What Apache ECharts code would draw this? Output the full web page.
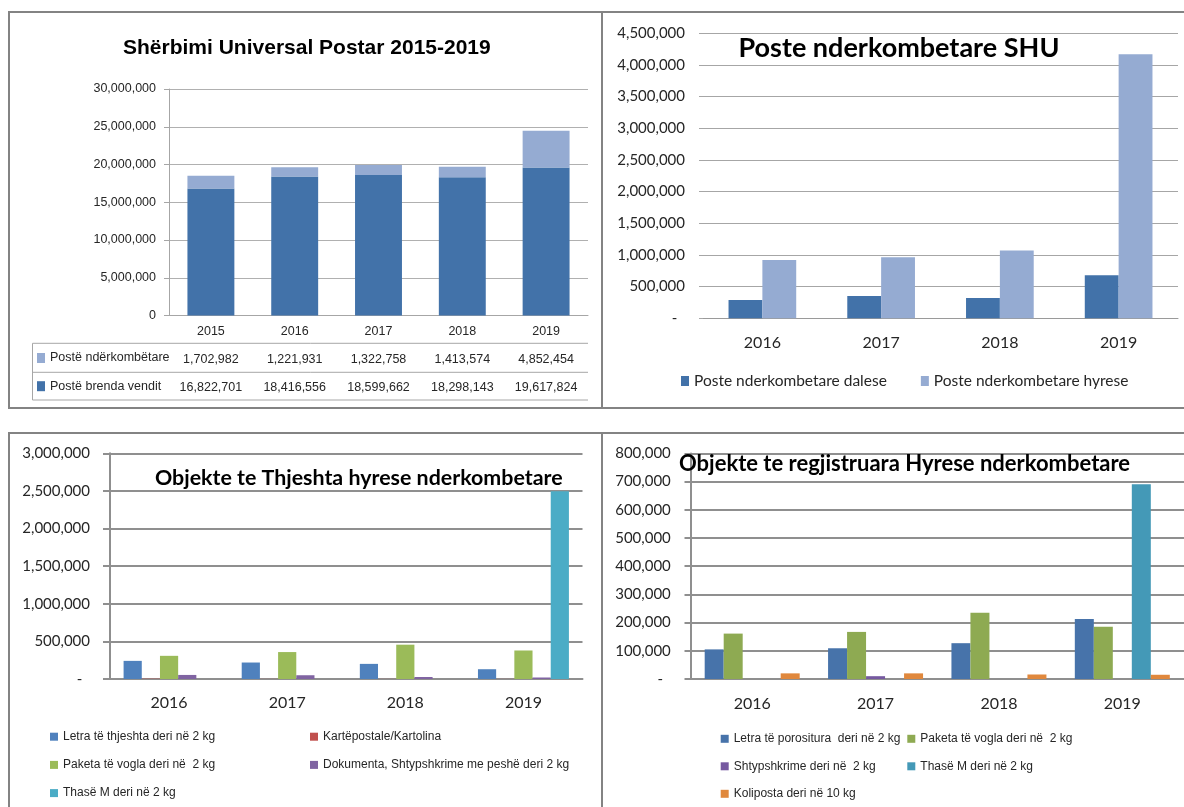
<!DOCTYPE html>
<html>
<head>
<meta charset="utf-8">
<script src="https://cdn.jsdelivr.net/npm/echarts@6/dist/echarts.min.js"></script>
<style>
  html, body { margin: 0; padding: 0; background: #ffffff; width: 1184px; height: 807px; overflow: hidden; }
  .chart { position: absolute; }
  .frame { position: absolute; border: 2px solid #838383; box-sizing: border-box; pointer-events: none; }
</style>
</head>
<body>
<div id="tl" class="chart" style="left:0;top:0;width:602px;height:410px"></div>
<div id="tr" class="chart" style="left:602px;top:0;width:582px;height:410px"></div>
<div id="bl" class="chart" style="left:0;top:420px;width:602px;height:387px"></div>
<div id="br" class="chart" style="left:602px;top:420px;width:582px;height:387px"></div>

<div class="frame" style="left:8px;top:11px;width:1190px;height:398px"></div>
<div class="frame" style="left:601px;top:11px;width:2px;height:398px;border-width:0 0 0 2px"></div>
<div class="frame" style="left:8px;top:432px;width:1190px;height:400px"></div>
<div class="frame" style="left:601px;top:432px;width:2px;height:400px;border-width:0 0 0 2px"></div>

<script>
// ---- Shërbimi Universal Postar 2015-2019 ----
const yearsSHU = ['2015', '2016', '2017', '2018', '2019'];
const posteNderkombetare = [1702982, 1221931, 1322758, 1413574, 4852454];
const posteBrendaVendit = [16822701, 18416556, 18599662, 18298143, 19617824];

// ---- Poste nderkombetare SHU ----
const yearsIntl = ['2016', '2017', '2018', '2019'];
const posteDalese = [290000, 352000, 322000, 680000];
const posteHyrese = [921000, 964000, 1072000, 4168000];

// ---- Objekte te Thjeshta hyrese nderkombetare ----
const letraThjeshta = [241000, 219000, 201000, 130000];
const kartepostale = [4000, 1000, 1000, 1000];
const paketaVoglaThjeshta = [308000, 358000, 456000, 379000];
const dokumentaShtypshkrime = [54000, 50000, 27000, 20000];
const thaseMThjeshta = [0, 0, 0, 2495000];

// ---- Objekte te regjistruara Hyrese nderkombetare ----
const letraPorositura = [105000, 109000, 127000, 213000];
const paketaVoglaRegj = [161000, 167000, 235000, 185000];
const shtypshkrimeRegj = [0, 10000, 0, 0];
const thaseMRegj = [0, 0, 0, 691000];
const koliposta = [20000, 20000, 16000, 15000];

const NARROW = '"Liberation Sans", Arial, sans-serif';
const SANS = 'Lato, "Open Sans", "Liberation Sans", sans-serif';
const TXT = '#262626';
const fmt = v => Number(v).toLocaleString('en-US');
const fmtDash = v => (v === 0 ? '-  ' : fmt(v));

function mount(id, option) {
  const chart = echarts.init(document.getElementById(id), null, { renderer: 'canvas' });
  chart.setOption(option);
  return chart;
}

// Stacked bars with a data table under the category axis
mount('tl', {
  animation: false,
  title: {
    text: 'Shërbimi Universal Postar 2015-2019',
    left: 123, top: 38, padding: 0,
    textStyle: { fontFamily: NARROW, fontWeight: 'bold', fontSize: 21, color: '#000' }
  },
  legend: {
    orient: 'vertical', left: 37, top: 349, padding: 0,
    itemWidth: 8, itemHeight: 10, itemGap: 10.2,
    icon: 'rect',
    data: ['Postë ndërkombëtare', 'Postë brenda vendit'],
    textStyle: { fontFamily: NARROW, fontSize: 12.5, color: TXT, lineHeight: 18 }
  },
  grid: { left: 169, top: 89, width: 419, height: 226.5 },
  xAxis: {
    type: 'category', data: yearsSHU,
    axisLine: { lineStyle: { color: '#a6a6a6', width: 1 } },
    axisTick: { length: 85, interval: 0, lineStyle: { color: '#a6a6a6' } },
    axisLabel: {
      interval: 0, margin: 2,
      formatter: (v, i) => `{y|${v}}\n{v|${fmt(posteNderkombetare[i])}}\n{v|${fmt(posteBrendaVendit[i])}}`,
      rich: {
        y: { fontFamily: NARROW, fontSize: 12.5, color: TXT, lineHeight: 28.2 },
        v: { fontFamily: NARROW, fontSize: 12.5, color: TXT, lineHeight: 28.2 }
      }
    }
  },
  yAxis: {
    type: 'value', min: 0, max: 30000000, interval: 5000000,
    axisLine: { show: true, lineStyle: { color: '#a6a6a6' } },
    axisTick: { show: true, length: 5, lineStyle: { color: '#a6a6a6' } },
    splitLine: { lineStyle: { color: '#b0b0b0' } },
    axisLabel: { margin: 13, formatter: v => fmt(v), fontFamily: NARROW, fontSize: 12.5, color: TXT }
  },
  graphic: [
    { type: 'line', shape: { x1: 32.5, y1: 343.3, x2: 588, y2: 343.3 }, style: { stroke: '#a6a6a6', lineWidth: 1 } },
    { type: 'line', shape: { x1: 32.5, y1: 372.3, x2: 588, y2: 372.3 }, style: { stroke: '#a6a6a6', lineWidth: 1 } },
    { type: 'line', shape: { x1: 32.5, y1: 400, x2: 588, y2: 400 }, style: { stroke: '#a6a6a6', lineWidth: 1 } },
    { type: 'line', shape: { x1: 32.5, y1: 343.3, x2: 32.5, y2: 400 }, style: { stroke: '#a6a6a6', lineWidth: 1 } }
  ],
  series: [
    { name: 'Postë brenda vendit', type: 'bar', stack: 'shu', data: posteBrendaVendit,
      barCategoryGap: '44%', itemStyle: { color: '#4272a9' } },
    { name: 'Postë ndërkombëtare', type: 'bar', stack: 'shu', data: posteNderkombetare,
      itemStyle: { color: '#95abd2' } }
  ]
});

// Outgoing vs incoming international mail
mount('tr', {
  animation: false,
  title: {
    text: 'Poste nderkombetare SHU',
    left: 136.5, top: 35, padding: 0,
    textStyle: { fontFamily: SANS, fontWeight: 'bold', fontSize: 27, color: '#000' }
  },
  legend: {
    left: 79, top: 372, padding: 0,
    itemWidth: 8, itemHeight: 10, itemGap: 34, icon: 'rect',
    textStyle: { fontFamily: SANS, fontSize: 15.5, color: TXT, lineHeight: 18 }
  },
  grid: { left: 101, top: 33.3, width: 475, height: 285 },
  xAxis: {
    type: 'category', data: yearsIntl,
    axisLine: { lineStyle: { color: '#9a9a9a' } },
    axisTick: { length: 7, interval: 0, lineStyle: { color: '#9a9a9a' } },
    axisLabel: { margin: 17, fontFamily: SANS, fontSize: 16, color: TXT }
  },
  yAxis: {
    type: 'value', min: 0, max: 4500000, interval: 500000,
    axisLine: { show: false },
    axisTick: { show: true, length: 4, lineStyle: { color: '#a6a6a6' } },
    splitLine: { lineStyle: { color: '#a6a6a6' } },
    axisLabel: { margin: 18, formatter: fmtDash, fontFamily: SANS, fontSize: 15, color: TXT }
  },
  series: [
    { name: 'Poste nderkombetare dalese', type: 'bar', data: posteDalese,
      barGap: '0%', barCategoryGap: '43%', itemStyle: { color: '#4272a9' } },
    { name: 'Poste nderkombetare hyrese', type: 'bar', data: posteHyrese,
      itemStyle: { color: '#95abd2' } }
  ]
});

// Unregistered incoming items
const blColors = ['#4f81bd', '#c0504d', '#9bbb59', '#8064a2', '#4bacc6'];
mount('bl', {
  animation: false,
  color: blColors,
  title: {
    text: 'Objekte te Thjeshta hyrese nderkombetare',
    left: 155, top: 47.5, padding: 0,
    textStyle: { fontFamily: SANS, fontWeight: 'bold', fontSize: 21.4, color: '#000' }
  },
  legend: [
    { orient: 'vertical', left: 50, top: 308.7, padding: 0, itemWidth: 8, itemHeight: 8, itemGap: 12.2, icon: 'rect',
      data: ['Letra të thjeshta deri në 2 kg', 'Paketa të vogla deri në  2 kg', 'Thasë M deri në 2 kg'],
      textStyle: { fontFamily: NARROW, fontSize: 12, color: TXT, lineHeight: 16 } },
    { orient: 'vertical', left: 310, top: 308.7, padding: 0, itemWidth: 8, itemHeight: 8, itemGap: 12.2, icon: 'rect',
      data: ['Kartëpostale/Kartolina', 'Dokumenta, Shtypshkrime me peshë deri 2 kg'],
      textStyle: { fontFamily: NARROW, fontSize: 12, color: TXT, lineHeight: 16 } }
  ],
  grid: { left: 110, top: 33.3, width: 472.5, height: 225.7 },
  xAxis: {
    type: 'category', data: yearsIntl,
    axisLine: { lineStyle: { color: '#8f8f8f', width: 2 } },
    axisTick: { length: 7, interval: 0, lineStyle: { color: '#8f8f8f', width: 2 } },
    axisLabel: { margin: 16, fontFamily: SANS, fontSize: 16, color: TXT }
  },
  yAxis: {
    type: 'value', min: 0, max: 3000000, interval: 500000,
    axisLine: { show: true, lineStyle: { color: '#8f8f8f', width: 2 } },
    axisTick: { show: true, length: 7, lineStyle: { color: '#8f8f8f', width: 2 } },
    splitLine: { lineStyle: { color: '#8f8f8f', width: 2 } },
    axisLabel: { margin: 20, formatter: fmtDash, fontFamily: SANS, fontSize: 15, color: TXT }
  },
  series: [
    { name: 'Letra të thjeshta deri në 2 kg', type: 'bar', data: letraThjeshta, barGap: '0%', barCategoryGap: '23%' },
    { name: 'Kartëpostale/Kartolina', type: 'bar', data: kartepostale },
    { name: 'Paketa të vogla deri në  2 kg', type: 'bar', data: paketaVoglaThjeshta },
    { name: 'Dokumenta, Shtypshkrime me peshë deri 2 kg', type: 'bar', data: dokumentaShtypshkrime },
    { name: 'Thasë M deri në 2 kg', type: 'bar', data: thaseMThjeshta }
  ]
});

// Registered incoming items
const brColors = ['#4773aa', '#8eaa52', '#7659a0', '#4499b7', '#e0883d'];
mount('br', {
  animation: false,
  color: brColors,
  title: {
    text: 'Objekte te regjistruara Hyrese nderkombetare',
    left: 77, top: 33, padding: 0,
    textStyle: { fontFamily: SANS, fontWeight: 'bold', fontSize: 22, color: '#000' }
  },
  legend: [
    { orient: 'vertical', left: 118.7, top: 310.8, padding: 0, itemWidth: 8, itemHeight: 8, itemGap: 11.5, icon: 'rect',
      data: ['Letra të porositura  deri në 2 kg', 'Shtypshkrime deri në  2 kg', 'Koliposta deri në 10 kg'],
      textStyle: { fontFamily: NARROW, fontSize: 12, color: TXT, lineHeight: 16 } },
    { orient: 'vertical', left: 305.3, top: 310.8, padding: 0, itemWidth: 8, itemHeight: 8, itemGap: 11.5, icon: 'rect',
      data: ['Paketa të vogla deri në  2 kg', 'Thasë M deri në 2 kg'],
      textStyle: { fontFamily: NARROW, fontSize: 12, color: TXT, lineHeight: 16 } }
  ],
  grid: { left: 88.5, top: 33.4, width: 493.5, height: 225.6 },
  xAxis: {
    type: 'category', data: yearsIntl,
    axisLine: { lineStyle: { color: '#8f8f8f', width: 2 } },
    axisTick: { length: 7, interval: 0, lineStyle: { color: '#8f8f8f', width: 2 } },
    axisLabel: { margin: 17, fontFamily: SANS, fontSize: 16, color: TXT }
  },
  yAxis: {
    type: 'value', min: 0, max: 800000, interval: 100000,
    axisLine: { show: true, lineStyle: { color: '#8f8f8f', width: 2 } },
    axisTick: { show: true, length: 6, lineStyle: { color: '#8f8f8f', width: 2 } },
    splitLine: { lineStyle: { color: '#8f8f8f', width: 2 } },
    axisLabel: { margin: 19.7, formatter: fmtDash, fontFamily: SANS, fontSize: 15, color: TXT }
  },
  series: [
    { name: 'Letra të porositura  deri në 2 kg', type: 'bar', data: letraPorositura, barGap: '0%', barCategoryGap: '23%' },
    { name: 'Paketa të vogla deri në  2 kg', type: 'bar', data: paketaVoglaRegj },
    { name: 'Shtypshkrime deri në  2 kg', type: 'bar', data: shtypshkrimeRegj },
    { name: 'Thasë M deri në 2 kg', type: 'bar', data: thaseMRegj },
    { name: 'Koliposta deri në 10 kg', type: 'bar', data: koliposta }
  ]
});
</script>
</body>
</html>
